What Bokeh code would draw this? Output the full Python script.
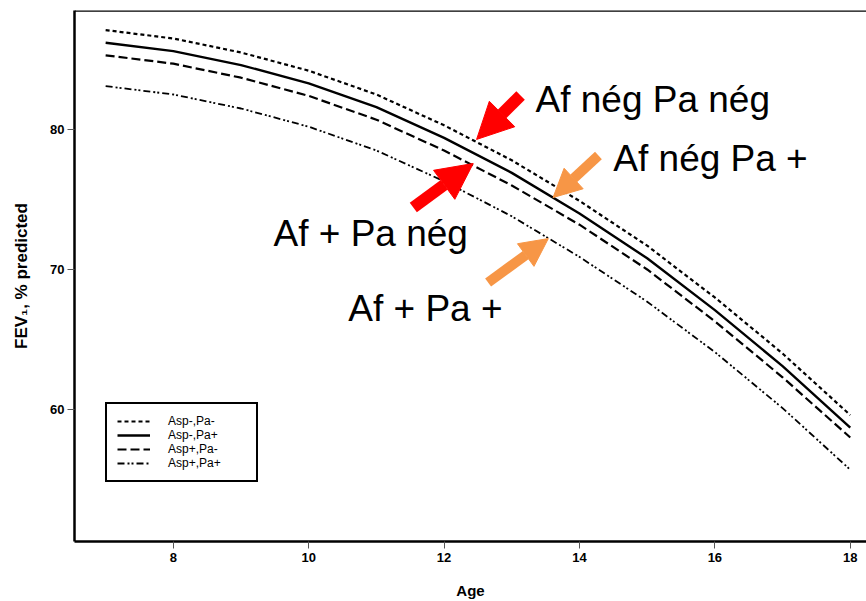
from bokeh.plotting import figure
from bokeh.models import (FixedTicker, Label, Arrow, NormalHead, Span, Legend)
from bokeh.embed import file_html
from bokeh.resources import INLINE

# ---- data ----
ages = [7, 8, 9, 10, 11, 12, 13, 14, 15, 16, 17, 18]
asp_neg_pa_neg = [87.1, 86.5, 85.5, 84.2, 82.5, 80.3, 77.8, 74.9, 71.7, 68.0, 64.0, 59.6]
asp_neg_pa_pos = [86.2, 85.6, 84.6, 83.3, 81.6, 79.4, 76.9, 74.0, 70.8, 67.1, 63.1, 58.7]
asp_pos_pa_neg = [85.3, 84.7, 83.7, 82.4, 80.7, 78.5, 76.0, 73.2, 70.0, 66.3, 62.3, 58.0]
asp_pos_pa_pos = [83.1, 82.5, 81.5, 80.2, 78.5, 76.3, 73.8, 70.9, 67.7, 64.1, 60.1, 55.7]
series_labels = ["Asp-,Pa-", "Asp-,Pa+", "Asp+,Pa-", "Asp+,Pa+"]
x_ticks = [8, 10, 12, 14, 16, 18]
y_ticks = [60, 70, 80]
annotation_texts = ["Af nég Pa nég", "Af nég Pa +", "Af + Pa nég", "Af + Pa +"]

p = figure(width=866, height=601, x_range=(6.54, 18.24), y_range=(50.57, 88.5),
           output_backend="svg", toolbar_location=None)
p.min_border_top = 10
p.min_border_right = 0
p.min_border_left = 74
p.min_border_bottom = 60
p.outline_line_color = None
p.xgrid.visible = False
p.ygrid.visible = False
p.background_fill_color = "white"
p.border_fill_color = "white"

styles = [
    dict(line_dash="4 3", line_width=2.2),
    dict(line_dash="solid", line_width=2.4),
    dict(line_dash="9 4", line_width=2.2),
    dict(line_dash="7 3 2 2 2 3", line_width=1.8),
]
series = [asp_neg_pa_neg, asp_neg_pa_pos, asp_pos_pa_neg, asp_pos_pa_pos]
renderers = []
for vals, lab, st in zip(series, series_labels, styles):
    r = p.line(ages, vals, line_color="black", **st)
    renderers.append((lab, [r]))

legend = Legend(items=renderers, location=(31, 59))
legend.glyph_width = 33
legend.glyph_height = 10
legend.label_height = 10
legend.spacing = 0
legend.padding = 10
legend.label_standoff = 18
legend.label_width = 78
legend.label_text_font = "Liberation Sans"
legend.label_text_font_size = "12px"
legend.label_text_color = "black"
legend.border_line_color = "black"
legend.border_line_alpha = 1
legend.border_line_width = 2
legend.background_fill_alpha = 1
legend.margin = 0
p.add_layout(legend, "center")

# axes
for ax in (p.xaxis[0], p.yaxis[0]):
    ax.axis_line_width = 2.5
    ax.axis_line_color = "black"
    ax.major_tick_out = 7
    ax.major_tick_in = 0
    ax.major_tick_line_color = "#555555"
    ax.major_tick_line_width = 1
    ax.minor_tick_line_color = None
    ax.major_label_text_font = "Liberation Sans"
    ax.major_label_text_font_style = "bold"
    ax.major_label_text_font_size = "13px"
    ax.major_label_text_color = "black"
    ax.axis_label_text_font = "Liberation Sans"
    ax.axis_label_text_font_style = "bold"
    ax.axis_label_text_font_size = "15px"
    ax.axis_label_text_color = "black"

p.yaxis.axis_label_text_font_size = "17px"
p.xaxis.ticker = FixedTicker(ticks=x_ticks)
p.yaxis.ticker = FixedTicker(ticks=y_ticks)
p.xaxis.axis_label = "Age"
p.yaxis.axis_label = "FEV\u2081, % predicted"
p.xaxis.major_label_standoff = 4
p.xaxis.axis_label_standoff = 17
p.yaxis.major_label_standoff = 3
p.yaxis.axis_label_standoff = 16

# top border of the frame
p.add_layout(Span(location=88.5, dimension="width", line_color="black", line_width=2.5))

# annotations
label_pos = [(13.35, 82.12), (14.50, 77.93), (9.48, 72.57), (10.585, 67.21)]
for txt, (lx, ly) in zip(annotation_texts, label_pos):
    p.add_layout(Label(x=lx, y=ly, text=txt, text_font="Liberation Sans",
                       text_font_size="37px", text_color="black",
                       text_baseline="alphabetic", text_align="left"))

arrows = [
    ((13.13, 82.43), (12.48, 79.29), "#FF0000", 12, 36),
    ((11.545, 74.43), (12.43, 77.57), "#FF0000", 12, 36),
    ((14.28, 78.14), (13.61, 75.14), "#F79646", 10, 28),
    ((12.65, 69.07), (13.54, 72.21), "#F79646", 10, 28),
]
for (sx, sy), (ex, ey), col, lw, hs in arrows:
    p.add_layout(Arrow(end=NormalHead(size=hs, fill_color=col, line_color=col, line_width=1),
                       x_start=sx, y_start=sy, x_end=ex, y_end=ey,
                       line_color=col, line_width=lw))

open("out.html", "w").write(file_html(p, INLINE))
